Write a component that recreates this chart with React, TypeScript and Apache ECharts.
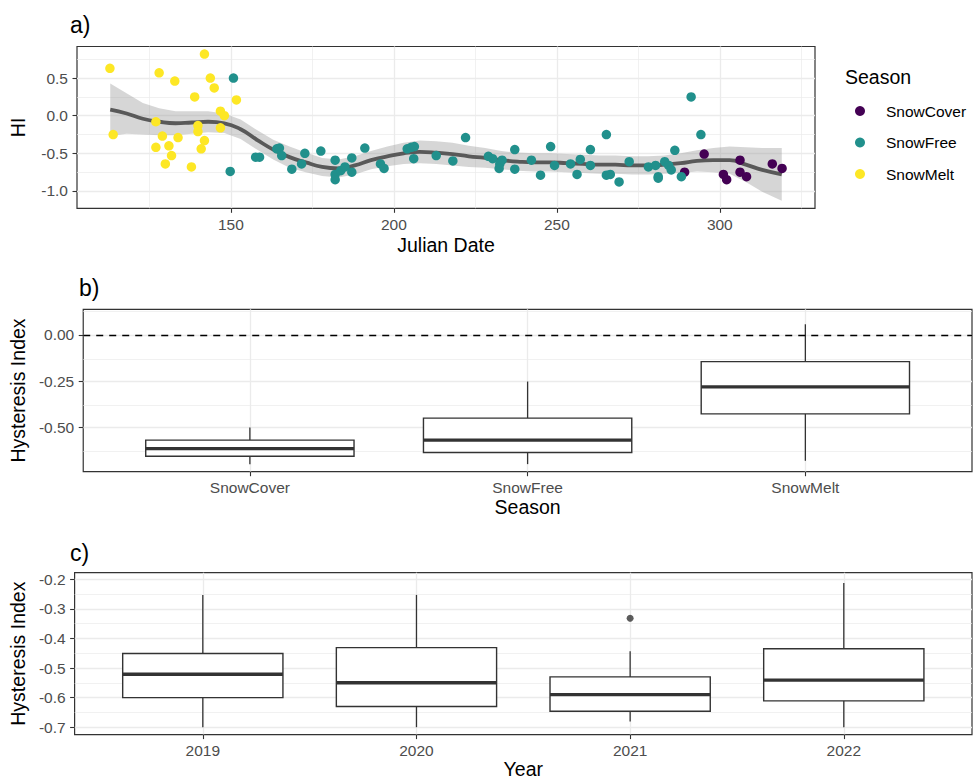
import React, { useEffect, useRef } from "react";
import * as echarts from "echarts";

const FONT = "'Liberation Sans', Arial, sans-serif";

// ---------- Panel a data ----------
const seasonNames = ["SnowCover", "SnowFree", "SnowMelt"];
const seasonColors = ["#440154", "#21908C", "#FDE725"];

const snowCoverPts = [
  [289.2, -0.75], [295.2, -0.51], [301.1, -0.78], [302.1, -0.85], [306.2, -0.59],
  [306.2, -0.75], [308.2, -0.81], [316.1, -0.64], [319.1, -0.7],
];

const snowFreePts = [
  [150.8, 0.5], [149.8, -0.74], [157.6, -0.55], [158.8, -0.55], [164.1, -0.44],
  [164.9, -0.43], [165.6, -0.53], [168.7, -0.71], [171.7, -0.64], [172.7, -0.5],
  [177.6, -0.47], [182, -0.59], [182, -0.78], [182, -0.85], [183.7, -0.73],
  [185, -0.68], [187.1, -0.56], [187.1, -0.75], [191.1, -0.43], [195.9, -0.64],
  [197, -0.7], [204.1, -0.44], [205.3, -0.42], [206.3, -0.41], [206.1, -0.57],
  [213, -0.53], [218.1, -0.6], [222, -0.29], [229, -0.54], [230.3, -0.57],
  [233.2, -0.59], [232.5, -0.64], [232.3, -0.7], [237.1, -0.45], [237.1, -0.71],
  [242.2, -0.59], [245, -0.79], [248.1, -0.41], [249.3, -0.66], [254.2, -0.64],
  [256.2, -0.78], [257.2, -0.58], [260.3, -0.45], [260.3, -0.66], [265.2, -0.25],
  [265.2, -0.79], [266.4, -0.78], [269.1, -0.88], [272.2, -0.61], [278.1, -0.68],
  [280.3, -0.66], [281.1, -0.81], [281.1, -0.83], [283.1, -0.61], [284.3, -0.66],
  [285.1, -0.72], [286.2, -0.46], [288.2, -0.81], [291.2, 0.25], [294.2, -0.25],
];

const snowMeltPts = [
  [112.9, 0.63], [113.9, -0.25], [128, 0.57], [132.8, 0.46], [141.9, 0.82],
  [143.7, 0.5], [144.9, 0.37], [138.9, 0.25], [151.7, 0.21], [146.8, 0.06],
  [148, 0.0], [146.8, -0.16], [127, -0.08], [139.9, -0.13], [139.9, -0.21],
  [141.9, -0.33], [129, -0.27], [133.8, -0.29], [127, -0.42], [131, -0.4],
  [140.9, -0.44], [131.8, -0.53], [129.9, -0.64], [137.9, -0.68],
];

const smoothX = [113, 118, 123, 128, 133, 138, 143, 148, 153, 158, 163, 168, 173, 178, 183, 188, 193, 198, 203, 208, 213, 218, 223, 228, 233, 238, 243, 248, 253, 258, 263, 268, 273, 278, 283, 288, 293, 298, 303, 308, 313, 319];
const smoothY = [0.08, 0.03, -0.04, -0.08, -0.1, -0.09, -0.08, -0.1, -0.18, -0.32, -0.45, -0.55, -0.62, -0.68, -0.7, -0.66, -0.59, -0.54, -0.5, -0.48, -0.49, -0.51, -0.54, -0.56, -0.59, -0.61, -0.62, -0.62, -0.63, -0.64, -0.65, -0.65, -0.66, -0.66, -0.65, -0.63, -0.6, -0.59, -0.59, -0.65, -0.72, -0.78];
const bandUpper = [0.43, 0.3, 0.17, 0.1, 0.06, 0.06, 0.06, 0.03, -0.05, -0.19, -0.32, -0.41, -0.49, -0.56, -0.58, -0.54, -0.47, -0.41, -0.36, -0.33, -0.34, -0.36, -0.4, -0.43, -0.47, -0.49, -0.5, -0.5, -0.51, -0.52, -0.53, -0.53, -0.54, -0.54, -0.53, -0.5, -0.46, -0.43, -0.41, -0.42, -0.43, -0.43];
const bandLower = [-0.27, -0.24, -0.25, -0.26, -0.26, -0.24, -0.22, -0.23, -0.31, -0.45, -0.58, -0.69, -0.75, -0.8, -0.82, -0.78, -0.71, -0.67, -0.64, -0.63, -0.64, -0.66, -0.68, -0.69, -0.71, -0.73, -0.74, -0.74, -0.75, -0.76, -0.77, -0.77, -0.78, -0.78, -0.77, -0.76, -0.74, -0.75, -0.77, -0.88, -1.01, -1.13];

const aXTicks = [150, 200, 250, 300];
const aXMinor = [125, 175, 225, 275, 325];
const aYTicks = [0.5, 0, -0.5, -1];
const aYMinor = [0.75, 0.25, -0.25, -0.75];

// ---------- Panel b data ----------
const seasonBoxMin = [-0.699, -0.699, -0.681];
const seasonBoxQ1 = [-0.656, -0.636, -0.427];
const seasonBoxMed = [-0.615, -0.569, -0.281];
const seasonBoxQ3 = [-0.569, -0.45, -0.144];
const seasonBoxMax = [-0.501, -0.252, 0.058];
const bXTicks = [1, 2, 3];
const bYTicks = [0, -0.25, -0.5];
const bYMinor = [0.125, -0.125, -0.375, -0.625];

// ---------- Panel c data ----------
const years = ["2019", "2020", "2021", "2022"];
const yearBoxMin = [-0.7, -0.7, -0.681, -0.7];
const yearBoxQ1 = [-0.6, -0.63, -0.646, -0.611];
const yearBoxMed = [-0.521, -0.55, -0.59, -0.541];
const yearBoxQ3 = [-0.451, -0.431, -0.53, -0.435];
const yearBoxMax = [-0.253, -0.253, -0.443, -0.213];
const outlierYears = ["2021"];
const outlierValues = [-0.332];
const cXTicks = [1, 2, 3, 4];
const cYTicks = [-0.2, -0.3, -0.4, -0.5, -0.6, -0.7];
const cYMinor = [-0.25, -0.35, -0.45, -0.55, -0.65];

const tickLabelStyle = { color: "#4d4d4d", fontSize: 15.5, fontFamily: FONT };
const axisNameStyle = { color: "#000", fontSize: 19.5, fontFamily: FONT };
const tickStyle = { length: 4.5, inside: false, lineStyle: { color: "#333333", width: 1.1 } };

function mainAxis(gridIndex: number, min: number, max: number, ticks: number[], fmt: (v: number) => string, margin: number, name: string, nameGap: number) {
  return {
    gridIndex, type: "value", min, max,
    axisLine: { show: false, onZero: false },
    axisTick: { show: true, ...tickStyle, customValues: ticks },
    axisLabel: { ...tickLabelStyle, margin, customValues: ticks, formatter: fmt },
    splitLine: { show: false },
    name, nameLocation: "middle", nameGap, nameTextStyle: axisNameStyle,
  };
}

// grid lines drawn as mark lines of an empty series, placed through the axes' scales
function gridLineSeries(xAxisIndex: number, yAxisIndex: number, xs: number[], ys: number[], width: number) {
  return {
    type: "line", xAxisIndex, yAxisIndex, data: [], silent: true, z: 0,
    markLine: {
      z: 0, silent: true, symbol: "none", label: { show: false }, animation: false,
      lineStyle: { type: "solid", color: "#ebebeb", width },
      emphasis: { disabled: true },
      data: [...xs.map((v) => ({ xAxis: v })), ...ys.map((v) => ({ yAxis: v }))],
    },
  };
}

function renderBox(params: any, api: any) {
  const x = api.value(0);
  const lo = api.coord([x, api.value(1)]);
  const q1 = api.coord([x, api.value(2)]);
  const md = api.coord([x, api.value(3)]);
  const q3 = api.coord([x, api.value(4)]);
  const hi = api.coord([x, api.value(5)]);
  const half = api.size([0.75, 0])[0] / 2;
  const stroke = "#333333";
  return {
    type: "group",
    children: [
      { type: "line", shape: { x1: lo[0], y1: lo[1], x2: q1[0], y2: q1[1] }, style: { stroke, lineWidth: 1.3 } },
      { type: "line", shape: { x1: q3[0], y1: q3[1], x2: hi[0], y2: hi[1] }, style: { stroke, lineWidth: 1.3 } },
      { type: "rect", shape: { x: q3[0] - half, y: q3[1], width: 2 * half, height: q1[1] - q3[1] }, style: { fill: "#ffffff", stroke, lineWidth: 1.4 } },
      { type: "line", shape: { x1: md[0] - half, y1: md[1], x2: md[0] + half, y2: md[1] }, style: { stroke, lineWidth: 3.4 } },
    ],
  };
}

const gridStyle = { show: true, borderColor: "#333333", borderWidth: 1.2, backgroundColor: "transparent" };

export default function App() {
  const ref = useRef<HTMLDivElement>(null);
  useEffect(() => {
    if (!ref.current) return;
    const chart = echarts.init(ref.current, undefined, { renderer: "svg" });

    const bandData = smoothX.map((x, i) => [x, bandLower[i], bandUpper[i]]);
    const renderBand = (params: any, api: any) => {
      if (params.dataIndex !== 0) return null;
      const top = smoothX.map((x, i) => api.coord([x, bandUpper[i]]));
      const bot = smoothX.map((x, i) => api.coord([x, bandLower[i]])).reverse();
      return {
        type: "polygon",
        shape: { points: top.concat(bot) },
        style: { fill: "rgba(153,153,153,0.4)", stroke: "none" },
      };
    };

    const seasonBoxData = seasonNames.map((_, i) => [i + 1, seasonBoxMin[i], seasonBoxQ1[i], seasonBoxMed[i], seasonBoxQ3[i], seasonBoxMax[i]]);
    const yearBoxData = years.map((_, i) => [i + 1, yearBoxMin[i], yearBoxQ1[i], yearBoxMed[i], yearBoxQ3[i], yearBoxMax[i]]);
    const outlierData = outlierYears.map((y, i) => [years.indexOf(y) + 1, outlierValues[i]]);
    const ptsBySeason = [snowCoverPts, snowFreePts, snowMeltPts];

    const option: any = {
      animation: false,
      backgroundColor: "#ffffff",
      textStyle: { fontFamily: FONT },
      grid: [
        { left: 71.5, top: 46.5, width: 743.5, height: 161.8, ...gridStyle },
        { left: 80, top: 309.3, right: 1, height: 162.4, ...gridStyle },
        { left: 71, top: 572.7, right: 1, height: 162, ...gridStyle },
      ],
      xAxis: [
        mainAxis(0, 102.8, 329.2, aXTicks, (v: number) => String(v), 8, "Julian Date", 27),
        mainAxis(1, 0.4, 3.6, bXTicks, (v: number) => seasonNames[Math.round(v) - 1], 7.5, "Season", 25),
        mainAxis(2, 0.4, 4.6, cXTicks, (v: number) => years[Math.round(v) - 1], 7.5, "Year", 24),
      ],
      yAxis: [
        mainAxis(0, -1.23, 0.92, aYTicks, (v: number) => v.toFixed(1), 9, "HI", 49),
        mainAxis(1, -0.74, 0.139, bYTicks, (v: number) => v.toFixed(2), 9, "Hysteresis Index", 53),
        mainAxis(2, -0.725, -0.178, cYTicks, (v: number) => v.toFixed(1), 9, "Hysteresis Index", 44),
      ],
      legend: {
        orient: "vertical",
        left: 855,
        top: 102,
        padding: 0,
        itemWidth: 42,
        itemHeight: 10,
        itemGap: 13.5,
        icon: "circle",
        data: seasonNames,
        textStyle: { fontSize: 15.5, fontFamily: FONT, color: "#000", lineHeight: 18 },
      },
      graphic: [
        { type: "text", x: 70, y: 25, style: { text: "a)", font: `23px ${FONT}`, fill: "#000", verticalAlign: "middle" } },
        { type: "text", x: 79, y: 287.5, style: { text: "b)", font: `23px ${FONT}`, fill: "#000", verticalAlign: "middle" } },
        { type: "text", x: 70, y: 552.5, style: { text: "c)", font: `23px ${FONT}`, fill: "#000", verticalAlign: "middle" } },
        { type: "text", x: 845, y: 76.5, style: { text: "Season", font: `19.5px ${FONT}`, fill: "#000", verticalAlign: "middle" } },
      ],
      series: [
        gridLineSeries(0, 0, aXMinor, aYMinor, 0.7),
        gridLineSeries(1, 1, [], bYMinor, 0.7),
        gridLineSeries(2, 2, [], cYMinor, 0.7),
        gridLineSeries(0, 0, aXTicks, aYTicks, 1.3),
        gridLineSeries(1, 1, bXTicks, bYTicks, 1.3),
        gridLineSeries(2, 2, cXTicks, cYTicks, 1.3),
        {
          type: "custom", name: "band", xAxisIndex: 0, yAxisIndex: 0,
          renderItem: renderBand, data: bandData, encode: { x: 0, y: [1, 2] }, silent: true, z: 1,
        },
        {
          type: "line", name: "smooth", xAxisIndex: 0, yAxisIndex: 0,
          data: smoothX.map((x, i) => [x, smoothY[i]]), smooth: true, showSymbol: false,
          lineStyle: { color: "#595959", width: 3.8 }, z: 2,
        },
        ...seasonNames.map((name, i) => ({
          type: "scatter", name, xAxisIndex: 0, yAxisIndex: 0,
          data: ptsBySeason[i], symbolSize: 9.5,
          itemStyle: { color: seasonColors[i], opacity: 1 }, z: 3,
        })),
        {
          type: "custom", name: "seasonBox", xAxisIndex: 1, yAxisIndex: 1,
          renderItem: renderBox, data: seasonBoxData, encode: { x: 0, y: [1, 2, 3, 4, 5] }, z: 3,
          markLine: {
            silent: true, symbol: "none", label: { show: false },
            lineStyle: { type: [7, 6], color: "#000", width: 1.3 },
            data: [{ yAxis: 0 }],
          },
        },
        {
          type: "custom", name: "yearBox", xAxisIndex: 2, yAxisIndex: 2,
          renderItem: renderBox, data: yearBoxData, encode: { x: 0, y: [1, 2, 3, 4, 5] }, z: 3,
        },
        {
          type: "scatter", name: "outlier", xAxisIndex: 2, yAxisIndex: 2,
          data: outlierData, symbolSize: 7, itemStyle: { color: "#333333" }, z: 4,
        },
      ],
    };
    chart.setOption(option);
    return () => chart.dispose();
  }, []);
  return <div ref={ref} style={{ position: "absolute", left: 0, top: 0, width: 973, height: 780 }} />;
}
